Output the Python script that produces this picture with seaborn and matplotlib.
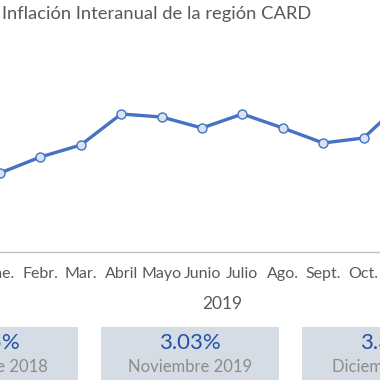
import matplotlib
matplotlib.use("Agg")
import matplotlib.pyplot as plt
from matplotlib.patches import Rectangle
import seaborn as sns
import pandas as pd

# ---- data ----
months = ["Ene.", "Febr.", "Mar.", "Abril", "Mayo", "Junio", "Julio", "Ago.", "Sept.", "Oct.", "Nov."]
inflation = [1.58, 1.90, 2.14, 2.76, 2.70, 2.48, 2.76, 2.48, 2.18, 2.28, 3.03]
year_label = "2019"
title = "Inflación Interanual de la región CARD"
box_values = ["2.35%", "3.03%", "3.35%"]
box_labels = ["Diciembre 2018", "Noviembre 2019", "Diciembre 2019"]

sns.set_theme(style="white")
plt.rcParams["font.family"] = ["Lato", "DejaVu Sans"]

W = H = 380
fig = plt.figure(figsize=(3.8, 3.8), dpi=100)

def fx(px):
    return px / W

def fy(py):
    return 1 - py / H

spacing = 40.4
left_px = -spacing / 2
axis_bottom_px = 252
axis_top_px = 40
ax = fig.add_axes([fx(left_px), fy(axis_bottom_px), 12 * spacing / W, (axis_bottom_px - axis_top_px) / H])

df = pd.DataFrame({"x": list(range(len(months))), "y": inflation})
sns.lineplot(data=df, x="x", y="y", ax=ax, color="#4472C4", linewidth=2.4,
             marker="o", markersize=6.5, markerfacecolor="#DAE3F3",
             markeredgecolor="#4472C4", markeredgewidth=1.0)

ax.set_xlim(-0.5, 11.5)
ax.set_ylim(0, (axis_bottom_px - axis_top_px) / 50.0)
ax.set_xticks(range(len(months)))
ax.set_xticklabels(months, color="#595959", fontsize=11.5)
ax.tick_params(axis="x", length=0, pad=11)
ax.set_yticks([])
ax.set_xlabel("")
ax.set_ylabel("")
for s in ["top", "left", "right"]:
    ax.spines[s].set_visible(False)
ax.spines["bottom"].set_color("#BFBFBF")
ax.spines["bottom"].set_linewidth(1.0)
ax.set_facecolor("none")

fig.text(fx(2), fy(14), title, color="#595959", fontsize=13.2, ha="left", va="center")
fig.text(fx(222), fy(304), year_label, color="#595959", fontsize=12.5, ha="center", va="center")

box_w = 178
gap = 23
first_left = 78 - box_w
for i, (v, lab) in enumerate(zip(box_values, box_labels)):
    x0 = first_left + i * (box_w + gap)
    fig.add_artist(Rectangle((fx(x0), fy(420)), box_w / W, (420 - 327) / H,
                             transform=fig.transFigure, facecolor="#D6DCE4",
                             edgecolor="none", zorder=0))
    cx = x0 + box_w / 2
    fig.text(fx(cx), fy(343), v, color="#1F52A8", fontsize=16, ha="center", va="center")
    fig.text(fx(cx), fy(367), lab, color="#8C8C8C", fontsize=12, ha="center", va="center")

fig.savefig("out.png", dpi=100)
